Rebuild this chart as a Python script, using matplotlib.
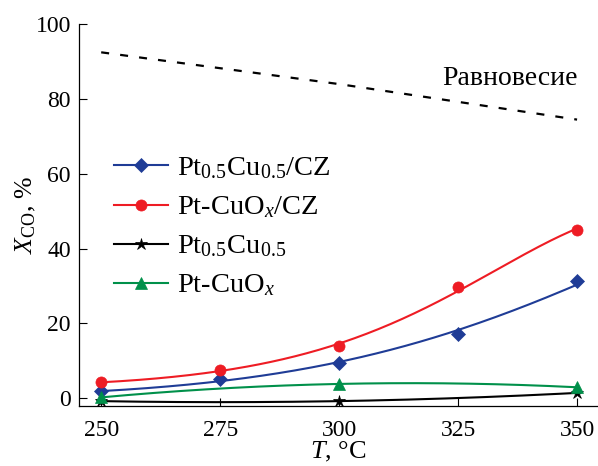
"""
CO conversion vs temperature for Pt-Cu catalysts, with equilibrium line.
"""
import numpy as np
import matplotlib
matplotlib.use("Agg")
import matplotlib.pyplot as plt
from matplotlib.lines import Line2D

plt.rcParams["font.family"] = ["Liberation Serif", "DejaVu Serif"]
plt.rcParams["mathtext.fontset"] = "custom"
plt.rcParams["mathtext.rm"] = "Liberation Serif"
plt.rcParams["mathtext.it"] = "Liberation Serif:italic"

T = [250, 275, 300, 325, 350]
T3 = [250, 300, 350]

PTCU_CZ = [1.8, 5.0, 9.4, 17.2, 31.4]
PTCUOX_CZ = [4.2, 7.5, 13.9, 29.6, 45.0]
PTCU = [-0.8, -0.8, 1.4]
PTCUOX = [0.2, 3.8, 2.9]

EQ_T = [250, 300, 350]
EQ = [92.5, 84.0, 74.5]

# (x, y, fit degree, fit in log space, colour, marker, size, label)
SERIES = [
    (T, PTCU_CZ, 2, True, "#1f3c96", "D", 7, "Pt$_{0.5}$Cu$_{0.5}$/CZ"),
    (T, PTCUOX_CZ, 3, True, "#ee1c24", "o", 8, "Pt-CuO$_{x}$/CZ"),
    (T3, PTCU, 2, False, "black", "*", 9, "Pt$_{0.5}$Cu$_{0.5}$"),
    (T3, PTCUOX, 2, False, "#00904a", "^", 8, "Pt-CuO$_{x}$"),
]


def main():
    fig = plt.figure(figsize=(5.98, 4.66), dpi=100)
    ax = fig.add_axes([0.1326, 0.1288, 0.8674, 0.8191])

    handles = []
    for xs, ys, deg, logfit, color, marker, ms, label in SERIES:
        xx = np.linspace(xs[0], xs[-1], 200)
        if logfit:
            coef = np.polyfit(xs, np.log(ys), deg)
            yy = np.exp(np.polyval(coef, xx))
        else:
            coef = np.polyfit(xs, ys, deg)
            yy = np.polyval(coef, xx)
        ax.plot(xx, yy, color=color, lw=1.5, zorder=2)
        ax.plot(xs, ys, ls="none", marker=marker, ms=ms, color=color,
                markeredgewidth=0.5, zorder=3, clip_on=False)
        handles.append(Line2D([], [], color=color, lw=1.5, marker=marker,
                              ms=ms, markeredgewidth=0.5, label=label))

    ax.plot(EQ_T, EQ, color="black", lw=1.6, dashes=(3.6, 5.0))
    ax.text(336, 85.5, "Равновесие", fontsize=20, ha="center", va="center")

    ax.set_xlim(245.4, 354.4)
    ax.set_ylim(-2.1, 100)
    ax.set_xticks(T)
    ax.set_yticks([0, 20, 40, 60, 80, 100])
    ax.tick_params(direction="in", length=6, width=0.8, labelsize=17)
    ax.tick_params(axis="x", pad=10)
    ax.tick_params(axis="y", pad=6)
    for side in ("top", "right"):
        ax.spines[side].set_visible(False)
    for side in ("left", "bottom"):
        ax.spines[side].set_linewidth(0.9)

    ax.set_xlabel("$T$, °C", fontsize=19, labelpad=-1)
    ax.set_ylabel("$X_{\\rm CO}$, %", fontsize=18.5, labelpad=-2)

    ax.legend(handles=handles, loc="upper left",
              bbox_to_anchor=(0.045, 0.686), frameon=False, fontsize=20.5,
              handlelength=1.9, handletextpad=0.3, labelspacing=0.46,
              borderaxespad=0)

    fig.savefig("out.png", dpi=100)
    plt.close(fig)


if __name__ == "__main__":
    main()
